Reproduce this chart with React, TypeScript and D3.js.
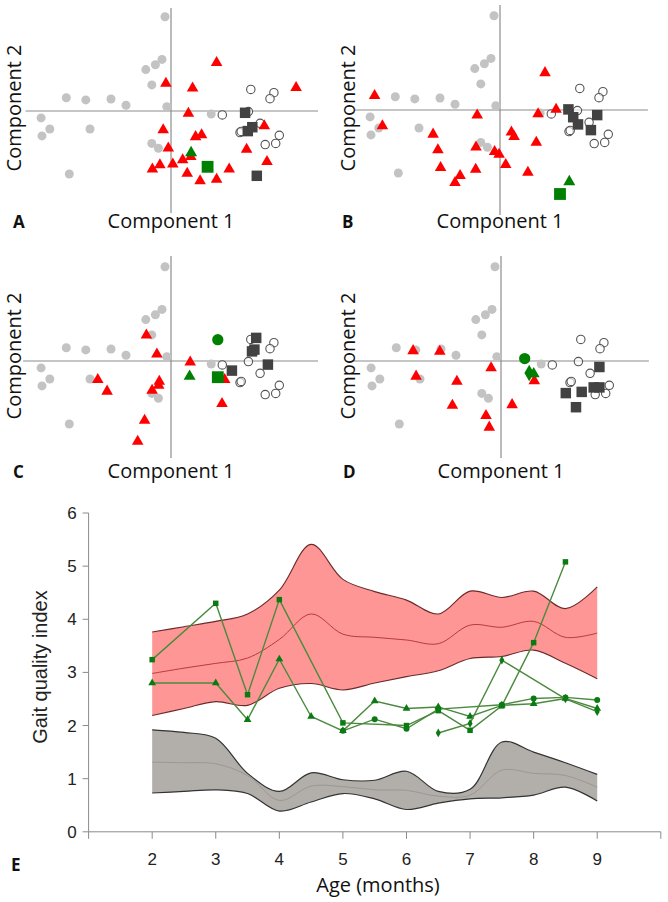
import React from 'react';
import * as d3 from 'd3';

// ---------- Panels A-D (PCA scatter) data, in component units ----------
const bgGray: [number, number][] = [
  [-0.2, 3.14], [-0.3, 1.72], [-0.52, 1.54], [-0.84, 1.38], [-0.64, 0.87],
  [-3.49, 0.44], [-2.84, 0.37], [-2.0, 0.4], [-1.5, 0.19], [-0.14, 0.14],
  [-4.33, -0.23], [-4.04, -0.6], [-4.3, -0.83], [-2.7, -0.6], [-0.64, -1.08],
  [-0.42, -1.24], [-3.39, -2.1], [1.34, -0.1],
];
const bgOpen: [number, number][] = [
  [2.66, 0.72], [3.43, 0.61], [3.3, 0.41], [1.71, -0.13], [2.58, -0.02],
  [2.3, -0.72], [2.34, -0.68], [2.97, -0.41], [3.61, -0.81], [3.49, -1.08], [3.14, -1.12],
];

const redA: [number, number][] = [
  [1.52, 1.61], [-0.17, 0.92], [0.72, 0.76], [4.17, 0.78], [0.58, -0.08], [-0.26, -0.63],
  [3.11, -0.5], [0.82, -0.86], [1.02, -0.8], [-0.09, -1.24], [2.52, -1.28], [0.66, -1.52],
  [0.39, -1.63], [0.06, -1.77], [-0.37, -1.8], [-0.62, -1.94], [1.94, -1.94], [3.2, -1.69],
  [0.54, -2.08], [0.97, -2.33], [1.52, -2.28],
];
const darkA: [number, number][] = [[2.47, -0.06], [2.56, -0.67], [2.71, -0.54], [2.86, -2.16]];
const greenA: [string, number, number][] = [['triangle', 0.67, -1.39], ['square', 1.22, -1.86]];

const redB: [number, number][] = [
  [-4.18, 0.48], [-3.92, -0.53], [1.5, 1.24], [1.87, 0.02], [1.27, -0.13], [-0.76, -0.17],
  [-2.23, -0.81], [0.38, -0.74], [0.47, -0.89], [-2.07, -1.33], [-0.8, -1.24], [1.21, -1.08],
  [-0.18, -1.39], [-0.03, -1.48], [-1.98, -1.92], [-0.81, -1.98], [0.19, -1.82], [0.93, -2.08],
  [-1.33, -2.19], [-1.5, -2.42],
];
const darkB: [number, number][] = [[2.28, 0.02], [2.44, -0.24], [2.6, -0.48], [3.24, -0.17], [3.03, -0.67]];
const greenB: [string, number, number][] = [['triangle', 2.31, -2.39], ['square', 2.0, -2.8]];

const redC: [number, number][] = [
  [-0.82, 0.86], [-0.47, 0.23], [0.64, -0.04], [-2.44, -0.62], [-2.13, -1.01], [-0.39, -0.68],
  [-0.41, -0.81], [-0.63, -0.98], [1.79, -0.62], [1.7, -1.42], [-0.88, -1.98], [-1.11, -2.68],
];
const darkC: [number, number][] = [[2.84, 0.77], [2.7, 0.32], [2.78, 0.38], [2.03, -0.32], [3.23, -0.12]];
const greenC: [string, number, number][] = [['circle', 1.56, 0.71], ['triangle', 0.62, -0.51], ['square', 1.56, -0.54]];

const redD: [number, number][] = [
  [-2.93, 0.34], [-2.04, 0.32], [-2.83, -0.51], [-1.47, -0.68], [-0.33, -0.23], [-1.62, -1.48],
  [0.37, -1.46], [-0.5, -1.82], [-0.39, -2.21], [1.11, -0.66],
];
const darkD: [number, number][] = [[3.28, -0.2], [2.16, -1.07], [2.69, -1.03], [3.09, -0.88], [3.28, -0.88], [2.5, -1.54]];
const greenD: [string, number, number][] = [['circle', 0.79, 0.08], ['diamond', 0.94, -0.4], ['triangle', 1.09, -0.43]];

// ---------- Panel E data ----------
const months = [2, 2.5, 3, 3.5, 4, 4.5, 5, 5.5, 6, 6.5, 7, 7.5, 8, 8.5, 9];
const redUpper = [3.76, 3.86, 3.96, 4.1, 4.55, 5.41, 4.75, 4.52, 4.36, 4.1, 4.53, 4.41, 4.53, 4.2, 4.61];
const redMean = [2.98, 3.08, 3.17, 3.27, 3.62, 4.1, 3.72, 3.66, 3.61, 3.54, 3.89, 3.85, 3.96, 3.66, 3.74];
const redLower = [2.19, 2.32, 2.45, 2.38, 2.7, 2.79, 2.67, 2.8, 2.92, 3.03, 3.26, 3.3, 3.42, 3.17, 2.88];
const grayUpper = [1.92, 1.87, 1.76, 1.1, 0.76, 1.11, 0.98, 0.97, 1.14, 0.76, 0.8, 1.69, 1.5, 1.3, 1.08];
const grayMean = [1.31, 1.3, 1.28, 1.06, 0.59, 0.86, 0.85, 0.79, 0.78, 0.67, 0.69, 1.16, 1.1, 1.06, 0.84];
const grayLower = [0.73, 0.76, 0.79, 0.72, 0.39, 0.56, 0.72, 0.62, 0.42, 0.54, 0.62, 0.64, 0.69, 0.84, 0.58];

const seriesSquare: [number, number][] = [
  [2, 3.24], [3, 4.3], [3.5, 2.58], [4, 4.37], [5, 2.05], [6, 2.0], [6.5, 2.28], [7, 1.91],
  [7.5, 2.37], [8, 3.56], [8.5, 5.08],
];
const seriesTriangle: [number, number][] = [
  [2, 2.8], [3, 2.8], [3.5, 2.11], [4, 3.25], [4.5, 2.17], [5, 1.9], [5.5, 2.46], [6, 2.32],
  [6.5, 2.35], [7, 2.17], [7.5, 2.38], [8, 2.41], [8.5, 2.51], [9, 2.32],
];
const seriesCircle: [number, number][] = [
  [5, 1.9], [5.5, 2.12], [6, 1.94], [6.5, 2.31], [7.5, 2.39], [8, 2.51], [8.5, 2.53], [9, 2.48],
];
const seriesDiamond: [number, number][] = [[6.5, 1.86], [7, 2.04], [7.5, 3.23], [8.5, 2.5], [9, 2.26]];

const yTicks = [0, 1, 2, 3, 4, 5, 6];
const xTickMarks = [1, 2, 3, 4, 5, 6, 7, 8, 9, 10];
const xTickLabels = [2, 3, 4, 5, 6, 7, 8, 9];

const K = 30;
const FONT = "'Open Sans', sans-serif";
const ARIAL = "'Liberation Sans', Arial, sans-serif";

const symType: Record<string, d3.SymbolType> = {
  triangle: d3.symbolTriangle,
  square: d3.symbolSquare,
  circle: d3.symbolCircle,
  diamond: d3.symbolDiamond,
};

const panels = [
  { letter: 'A', ox: 171, oy: 111, xr: [-4.85, 4.9], yr: [-3.4, 3.43], red: redA, dark: darkA, green: greenA, c2x: 21, c2y: 108, c1y: 228 },
  { letter: 'B', ox: 500, oy: 110, xr: [-4.83, 4.93], yr: [-3.5, 3.5], red: redB, dark: darkB, green: greenB, c2x: 355, c2y: 108, c1y: 228 },
  { letter: 'C', ox: 171, oy: 361, xr: [-4.93, 4.9], yr: [-3.23, 3.5], red: redC, dark: darkC, green: greenC, c2x: 21, c2y: 356, c1y: 478 },
  { letter: 'D', ox: 501, oy: 361, xr: [-4.9, 4.93], yr: [-3.23, 3.5], red: redD, dark: darkD, green: greenD, c2x: 355, c2y: 356, c1y: 478 },
];

function Scatter({ p }: { p: (typeof panels)[number] }) {
  const xs = d3.scaleLinear().domain([0, 1]).range([p.ox, p.ox + K]);
  const ys = d3.scaleLinear().domain([0, 1]).range([p.oy, p.oy - K]);
  const tri = d3.symbol().type(d3.symbolTriangle).size(58)() as string;
  const sq = d3.symbol().type(d3.symbolSquare).size(110)() as string;
  const greenSize: Record<string, number> = { triangle: 62, square: 140, circle: 100, diamond: 80 };
  return (
    <g>
      <line x1={xs(p.xr[0])} x2={xs(p.xr[1])} y1={ys(0)} y2={ys(0)} stroke="#8c8c8c" strokeWidth={1.2} />
      <line x1={xs(0)} x2={xs(0)} y1={ys(p.yr[1])} y2={ys(p.yr[0])} stroke="#8c8c8c" strokeWidth={1.2} />
      {bgGray.map((d, i) => (
        <circle key={'g' + i} cx={xs(d[0])} cy={ys(d[1])} r={4.5} fill="#c3c3c3" />
      ))}
      {bgOpen.map((d, i) => (
        <circle key={'o' + i} cx={xs(d[0])} cy={ys(d[1])} r={4.2} fill="white" fillOpacity={0.6} stroke="#555" strokeWidth={1.1} />
      ))}
      {p.red.map((d, i) => (
        <path key={'r' + i} d={tri} transform={`translate(${xs(d[0])},${ys(d[1])})`} fill="#ff0000" />
      ))}
      {p.dark.map((d, i) => (
        <path key={'d' + i} d={sq} transform={`translate(${xs(d[0])},${ys(d[1])})`} fill="#424242" />
      ))}
      {p.green.map((d, i) => (
        <path
          key={'gr' + i}
          d={d3.symbol().type(symType[d[0]]).size(greenSize[d[0]])() as string}
          transform={`translate(${xs(d[1])},${ys(d[2])})`}
          fill="#008000"
        />
      ))}
      <text
        transform={`translate(${p.c2x},${p.c2y}) rotate(-90)`}
        textAnchor="middle"
        fontFamily={FONT}
        fontSize={20}
        fill="#111"
      >
        Component 2
      </text>
      <text x={xs(0)} y={p.c1y} textAnchor="middle" fontFamily={FONT} fontSize={20} fill="#111">
        Component 1
      </text>
      <text x={p.ox - 158} y={p.c1y} fontFamily={FONT} fontWeight="bold" fontSize={17} fill="#111">
        {p.letter}
      </text>
    </g>
  );
}

function PanelE() {
  const xE = d3.scaleLinear().domain([1, 10]).range([88.6, 660.8]);
  const yE = d3.scaleLinear().domain([0, 6]).range([831.8, 513]);
  const curve = d3.curveCatmullRom.alpha(0.5);
  const idx = months.map((_, i) => i);
  const band = (lo: number[], hi: number[]) =>
    d3.area<number>().x((i) => xE(months[i])).y0((i) => yE(lo[i])).y1((i) => yE(hi[i])).curve(curve)(idx) as string;
  const line = (v: number[]) =>
    d3.line<number>().x((i) => xE(months[i])).y((i) => yE(v[i])).curve(curve)(idx) as string;
  const seg = d3.line<[number, number]>().x((d) => xE(d[0])).y((d) => yE(d[1]));
  const gLine = '#4b8a3e';
  const gFill = '#0b7a12';
  const series: [string, [number, number][], number][] = [
    ['square', seriesSquare, 30],
    ['triangle', seriesTriangle, 26],
    ['circle', seriesCircle, 28],
    ['diamond', seriesDiamond, 22],
  ];
  return (
    <g>
      <path d={band(grayLower, grayUpper)} fill="#b2afaa" />
      <path d={line(grayUpper)} fill="none" stroke="#333" strokeWidth={1.2} />
      <path d={line(grayLower)} fill="none" stroke="#333" strokeWidth={1.2} />
      <path d={line(grayMean)} fill="none" stroke="#9a9894" strokeWidth={1} />
      <path d={band(redLower, redUpper)} fill="#ff9696" />
      <path d={line(redUpper)} fill="none" stroke="#6b2a2a" strokeWidth={1.1} />
      <path d={line(redLower)} fill="none" stroke="#6b2a2a" strokeWidth={1.1} />
      <path d={line(redMean)} fill="none" stroke="#b83a3a" strokeWidth={1} />

      {/* axes */}
      <line x1={xE(1)} x2={xE(10)} y1={yE(0)} y2={yE(0)} stroke="#8a8a8a" strokeWidth={1} />
      <line x1={xE(1)} x2={xE(1)} y1={yE(0)} y2={yE(6)} stroke="#8a8a8a" strokeWidth={1} />
      {yTicks.map((t) => (
        <g key={'yt' + t}>
          <line x1={xE(1) - 6} x2={xE(1)} y1={yE(t)} y2={yE(t)} stroke="#8a8a8a" />
          <text x={xE(1) - 12} y={yE(t) + 6} textAnchor="end" fontFamily={ARIAL} fontSize={17} fill="#222">
            {t}
          </text>
        </g>
      ))}
      {xTickMarks.map((t) => (
        <line key={'xm' + t} x1={xE(t)} x2={xE(t)} y1={yE(0)} y2={yE(0) + 7} stroke="#8a8a8a" />
      ))}
      {xTickLabels.map((t) => (
        <text key={'xl' + t} x={xE(t)} y={865} textAnchor="middle" fontFamily={ARIAL} fontSize={17} fill="#222">
          {t}
        </text>
      ))}

      {series.map(([shape, pts, size]) => (
        <g key={shape}>
          <path d={seg(pts) as string} fill="none" stroke={gLine} strokeWidth={1.4} />
          {pts.map((d, i) => (
            <path
              key={i}
              d={d3.symbol().type(symType[shape]).size(size)() as string}
              transform={`translate(${xE(d[0])},${yE(d[1])})`}
              fill={gFill}
            />
          ))}
        </g>
      ))}

      <text
        transform={`translate(47,667) rotate(-90)`}
        textAnchor="middle"
        fontFamily={ARIAL}
        fontSize={20}
        fill="#222"
      >
        Gait quality index
      </text>
      <text x={378} y={892} textAnchor="middle" fontFamily={FONT} fontSize={20} fill="#111">
        Age (months)
      </text>
      <text x={11} y={871} fontFamily={FONT} fontWeight="bold" fontSize={17} fill="#111">
        E
      </text>
    </g>
  );
}

export default function App() {
  return (
    <svg
      width={668}
      height={902}
      viewBox="0 0 668 902"
      style={{ position: 'absolute', left: 0, top: 0, background: 'white' }}
    >
      <rect width={668} height={902} fill="white" />
      {panels.map((p) => (
        <Scatter key={p.letter} p={p} />
      ))}
      <PanelE />
    </svg>
  );
}
